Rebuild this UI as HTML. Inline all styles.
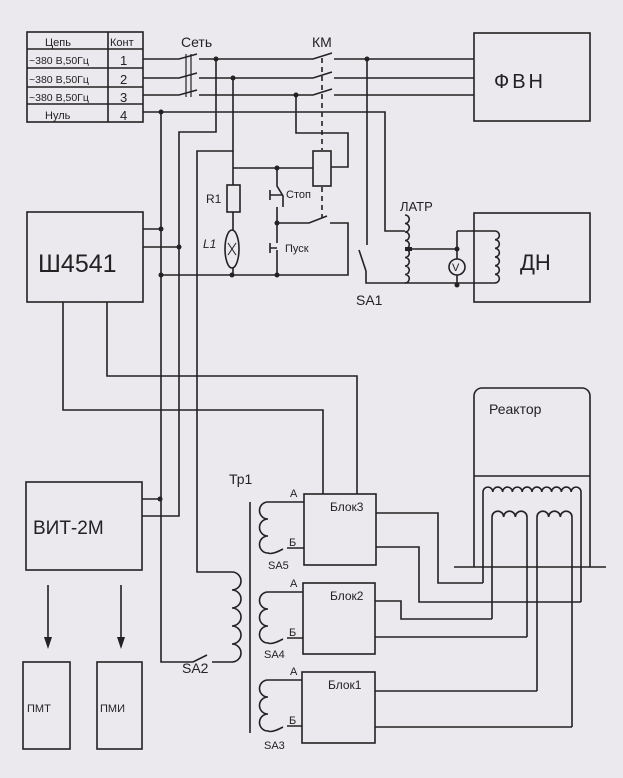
<!DOCTYPE html>
<html><head><meta charset="utf-8"><style>
html,body{margin:0;padding:0;background:#ebe8ee;}
svg{display:block}
text{font-family:"Liberation Sans",sans-serif;fill:#222}
</style></head><body>
<svg width="623" height="778" viewBox="0 0 623 778" xmlns="http://www.w3.org/2000/svg">
<rect width="623" height="778" fill="#ebe8ee"/>
<g stroke="#222" stroke-width="1.6" fill="none">
<rect x="27" y="32" width="116" height="90"/>
<line x1="27" y1="49" x2="143" y2="49"/><line x1="27" y1="68" x2="143" y2="68"/>
<line x1="27" y1="87" x2="143" y2="87"/><line x1="27" y1="104" x2="143" y2="104"/>
<line x1="108" y1="32" x2="108" y2="122"/>
<path d="M143 59H179L197 54M143 78H179L197 73M143 95H179L197 90"/>
<path d="M186 54V97M191 54V97" stroke-width="1.2"/>
<path d="M199 59H313L332 53M199 78H313L332 72M199 95H313L332 89"/>
<path d="M334 59H474M334 78H474M334 95H474"/>
<line x1="322" y1="58" x2="322" y2="150" stroke-dasharray="5,4"/>
<line x1="322" y1="187" x2="322" y2="218" stroke-dasharray="5,4"/>
<path d="M143 112H385V231H405"/>
<rect x="474" y="33" width="116" height="88"/>
<path d="M161 112V662H193L207 655M212 662H232"/>
<path d="M216 59V132H179V516H142"/>
<path d="M233 78V151H197V572H232"/>
<path d="M233 151V185M233 212V230M233 268V275"/>
<path d="M296 95V133H348V167H331"/>
<rect x="227" y="185" width="13" height="27"/>
<ellipse cx="232" cy="249" rx="7" ry="19"/>
<path d="M228 243L236 255M236 243L228 255" stroke-width="1"/>
<path d="M233 168H313"/>
<rect x="313" y="151" width="18" height="35"/>
<path d="M277 168V186L283 196V207M270 190V200M270 195H283M277 207V223"/>
<path d="M277 223H309L327 216M330 223H348V275H161"/>
<path d="M277 223V243M270 243V253M270 248H277M277 250V275"/>
<path d="M143 229H161M143 247H179"/>
<rect x="27" y="212" width="116" height="90"/>
<path d="M367 59V245M359 250L366 271M366 271V283H405M405 283H495"/>
<path d="M405 215a4.25 4.25 0 0 1 0 8.5a4.25 4.25 0 0 1 0 8.5a4.25 4.25 0 0 1 0 8.5a4.25 4.25 0 0 1 0 8.5a4.25 4.25 0 0 1 0 8.5a4.25 4.25 0 0 1 0 8.5a4.25 4.25 0 0 1 0 8.5a4.25 4.25 0 0 1 0 8.5"/>
<path d="M408 249H457V259M457 275V283M457 231V249M457 231H495"/>
<circle cx="457" cy="267" r="8"/>
<path d="M495 231a4.3 4.3 0 0 1 0 8.66a4.3 4.3 0 0 1 0 8.66a4.3 4.3 0 0 1 0 8.66a4.3 4.3 0 0 1 0 8.66a4.3 4.3 0 0 1 0 8.66a4.3 4.3 0 0 1 0 8.66"/>
<rect x="474" y="213" width="116" height="89"/>
<path d="M63 302V410H323V494M107 302V376H357V494"/>
<rect x="26" y="482" width="116" height="88"/>
<path d="M142 499H160"/>
<path d="M48 585V640M121 585V640"/>
<rect x="23" y="662" width="47" height="87"/>
<rect x="97" y="662" width="45" height="87"/>
<line x1="250" y1="502" x2="250" y2="733"/>
<path d="M232 572a9 9 0 0 1 0 18a9 9 0 0 1 0 18a9 9 0 0 1 0 18a9 9 0 0 1 0 18a9 9 0 0 1 0 18"/>
<path d="M304 502H268a8.5 8.5 0 0 0 0 17a8.5 8.5 0 0 0 0 17a8.5 8.5 0 0 0 0 17Q272 555 283 549M287 548H304"/>
<path d="M303 592H268a8.5 8.5 0 0 0 0 17a8.5 8.5 0 0 0 0 17a8.5 8.5 0 0 0 0 17Q272 645 283 639M287 638H303"/>
<path d="M302 680H268a8.5 8.5 0 0 0 0 17a8.5 8.5 0 0 0 0 17a8.5 8.5 0 0 0 0 17Q272 733 283 727M287 726H302"/>
<rect x="304" y="494" width="72" height="71"/>
<rect x="303" y="583" width="72" height="71"/>
<rect x="302" y="672" width="73" height="71"/>
<path d="M474 567V396a8 8 0 0 1 8-8H582a8 8 0 0 1 8 8V567"/>
<line x1="474" y1="476" x2="590" y2="476"/>
<line x1="454" y1="567" x2="606" y2="567"/>
<path d="M483 583V492a4.9 4.9 0 0 1 9.8 0a4.9 4.9 0 0 1 9.8 0a4.9 4.9 0 0 1 9.8 0a4.9 4.9 0 0 1 9.8 0a4.9 4.9 0 0 1 9.8 0a4.9 4.9 0 0 1 9.8 0a4.9 4.9 0 0 1 9.8 0a4.9 4.9 0 0 1 9.8 0a4.9 4.9 0 0 1 9.8 0a4.9 4.9 0 0 1 9.8 0V602"/>
<path d="M492 619V517a5.83 5.83 0 0 1 11.67 0a5.83 5.83 0 0 1 11.67 0a5.83 5.83 0 0 1 11.67 0V637"/>
<path d="M537 691V517a5.83 5.83 0 0 1 11.67 0a5.83 5.83 0 0 1 11.67 0a5.83 5.83 0 0 1 11.67 0V727"/>
<path d="M376 513H438V583H483M376 547H419V602H581M375 601H401V619H492M375 637H527M375 691H537M375 727H572"/>
</g>
<g fill="#222">
<path d="M44 637L52 637L48 649Z"/><path d="M117 637L125 637L121 649Z"/>
<circle cx="216" cy="59" r="2.5"/><circle cx="233" cy="78" r="2.5"/><circle cx="296" cy="95" r="2.5"/>
<circle cx="367" cy="59" r="2.5"/><circle cx="161" cy="112" r="2.5"/>
<circle cx="277" cy="168" r="2.5"/><circle cx="277" cy="223" r="2.5"/>
<circle cx="232" cy="275" r="2.5"/><circle cx="277" cy="275" r="2.5"/>
<circle cx="161" cy="229" r="2.5"/><circle cx="179" cy="247" r="2.5"/><circle cx="161" cy="275" r="2.5"/>
<circle cx="457" cy="249" r="2.5"/><circle cx="457" cy="285" r="2.5"/>
<circle cx="160" cy="499" r="2.5"/>
<rect x="405" y="247" width="7" height="4"/>
</g>
<g>
<text x="45" y="46" font-size="11">Цепь</text>
<text x="110" y="46" font-size="11">Конт</text>
<text x="29" y="64" font-size="10.5">~380 В,50Гц</text>
<text x="120" y="65" font-size="13">1</text>
<text x="29" y="83" font-size="10.5">~380 В,50Гц</text>
<text x="120" y="84" font-size="13">2</text>
<text x="29" y="101" font-size="10.5">~380 В,50Гц</text>
<text x="120" y="102" font-size="13">3</text>
<text x="45" y="119" font-size="11">Нуль</text>
<text x="120" y="120" font-size="13">4</text>
<text x="181" y="47" font-size="14">Сеть</text>
<text x="312" y="47" font-size="14">КМ</text>
<text x="494" y="88" font-size="20" letter-spacing="3">ФВН</text>
<text x="206" y="203" font-size="12">R1</text>
<text x="203" y="248" font-size="12" font-style="italic">L1</text>
<text x="286" y="198" font-size="11">Стоп</text>
<text x="285" y="252" font-size="11">Пуск</text>
<text x="400" y="211" font-size="13">ЛАТР</text>
<text x="452" y="271" font-size="11">V</text>
<text x="520" y="270" font-size="22">ДН</text>
<text x="356" y="305" font-size="14">SA1</text>
<text x="38" y="272" font-size="25">Ш4541</text>
<text x="33" y="534" font-size="19">ВИТ-2М</text>
<text x="27" y="712" font-size="11">ПМТ</text>
<text x="100" y="712" font-size="11">ПМИ</text>
<text x="229" y="484" font-size="14">Тр1</text>
<text x="182" y="673" font-size="14">SA2</text>
<text x="489" y="414" font-size="14">Реактор</text>
<text x="290" y="497" font-size="11">А</text>
<text x="289" y="546" font-size="11">Б</text>
<text x="330" y="511" font-size="12">Блок3</text>
<text x="268" y="569" font-size="11">SA5</text>
<text x="290" y="587" font-size="11">А</text>
<text x="289" y="636" font-size="11">Б</text>
<text x="330" y="600" font-size="12">Блок2</text>
<text x="264" y="658" font-size="11">SA4</text>
<text x="290" y="675" font-size="11">А</text>
<text x="289" y="724" font-size="11">Б</text>
<text x="328" y="689" font-size="12">Блок1</text>
<text x="264" y="749" font-size="11">SA3</text>
</g>
</svg>
</body></html>
